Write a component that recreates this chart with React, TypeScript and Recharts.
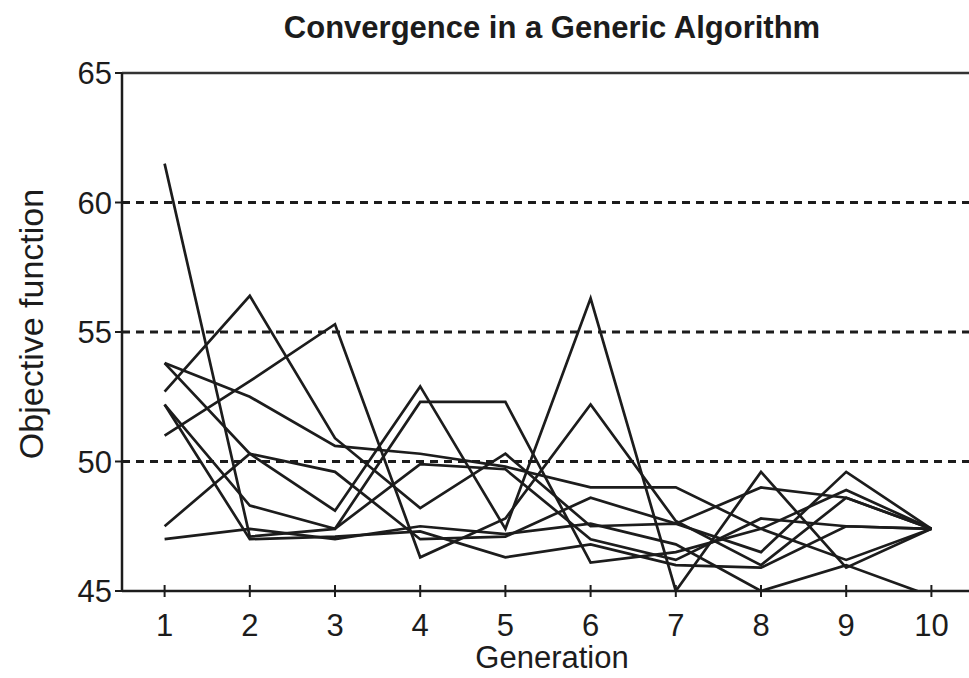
import React from "react";
import { LineChart, Line, XAxis, YAxis, ReferenceLine } from "recharts";

const INK = "#1c1c1c";
const FONT = '"Liberation Sans", Arial, Helvetica, sans-serif';

const generations = [1, 2, 3, 4, 5, 6, 7, 8, 9, 10];
const yTicks = [45, 50, 55, 60, 65];
const gridLevels = [50, 55, 60];

// one run of the algorithm per array, objective value at each generation
const run1 = [61.5, 47.1, 47.4, 52.3, 52.3, 46.1, 46.5, 47.4, 48.9, 47.4];
const run2 = [47.5, 50.3, 48.1, 52.9, 47.4, 56.3, 45.0, 49.6, 45.9, 47.4];
const run3 = [51.0, 53.1, 55.3, 46.3, 47.8, 52.2, 47.7, 46.0, 48.6, 47.4];
const run4 = [52.7, 56.4, 50.9, 48.2, 50.3, 47.5, 47.6, 46.5, 49.6, 47.4];
const run5 = [53.8, 52.5, 50.6, 50.3, 49.8, 49.0, 49.0, 47.4, 46.2, 47.4];
const run6 = [53.8, 50.3, 49.6, 47.0, 47.1, 48.6, 47.6, 49.0, 48.6, 47.4];
const run7 = [52.2, 48.3, 47.4, 49.9, 49.7, 47.0, 46.2, 47.8, 47.5, 47.4];
const run8 = [52.2, 47.0, 47.1, 47.3, 46.3, 46.8, 46.0, 45.9, 47.5, 47.4];
const run9 = [47.0, 47.4, 47.0, 47.5, 47.2, 47.6, 46.8, 45.0, 46.0, 44.8];

const runs = [run1, run2, run3, run4, run5, run6, run7, run8, run9];

const data = generations.map((g, i) => {
  const row: Record<string, number> = { gen: g };
  runs.forEach((r, k) => {
    row["r" + k] = r[i];
  });
  return row;
});

function GenTick({ x, y, payload }: any) {
  return (
    <g>
      <line x1={x} x2={x} y1={y - 6} y2={y + 6} stroke={INK} strokeWidth={2} />
      <text x={x} y={y + 45} textAnchor="middle" fontSize={31} fontFamily={FONT} fill={INK}>
        {payload.value}
      </text>
    </g>
  );
}

export default function App() {
  return (
    <div
      style={{
        position: "absolute",
        left: 0,
        top: 0,
        width: 969,
        height: 678,
        overflow: "hidden",
        background: "#fff",
        fontFamily: FONT,
        color: INK,
      }}
    >
      <div
        style={{
          position: "absolute",
          left: 0,
          width: 1104,
          top: 8,
          textAlign: "center",
          fontSize: 31,
          fontWeight: "bold",
          lineHeight: "40px",
        }}
      >
        Convergence in a Generic Algorithm
      </div>
      <div
        style={{
          position: "absolute",
          left: 31,
          top: 324,
          transform: "translate(-50%, -50%) rotate(-90deg)",
          whiteSpace: "nowrap",
          fontSize: 34,
          lineHeight: "38px",
        }}
      >
        Objective function
      </div>
      <div
        style={{
          position: "absolute",
          left: 0,
          width: 1104,
          top: 640,
          textAlign: "center",
          fontSize: 31,
          lineHeight: "36px",
        }}
      >
        Generation
      </div>
      <div style={{ position: "absolute", left: 0, top: 0 }}>
        <LineChart
          width={974}
          height={678}
          data={data}
          margin={{ top: 73, right: 0, bottom: 0, left: 62 }}
        >
          <XAxis
            dataKey="gen"
            type="number"
            domain={[0.5, 10.5]}
            ticks={generations}
            height={87}
            tickSize={0}
            tickMargin={0}
            tick={<GenTick />}
            axisLine={{ stroke: INK, strokeWidth: 2.5 }}
            allowDataOverflow
          />
          <YAxis
            type="number"
            domain={[45, 65]}
            ticks={yTicks}
            width={60}
            tickSize={7}
            tickMargin={3}
            tickLine={{ stroke: INK, strokeWidth: 2 }}
            axisLine={{ stroke: INK, strokeWidth: 2.5 }}
            tick={{ fontSize: 31, fill: INK, fontFamily: FONT }}
            allowDataOverflow
          />
          {gridLevels.map((v) => (
            <ReferenceLine key={v} y={v} stroke={INK} strokeWidth={3} strokeDasharray="8 6" />
          ))}
          <ReferenceLine y={65} stroke="#333" strokeWidth={2.5} />
          {runs.map((_, k) => (
            <Line
              key={k}
              dataKey={"r" + k}
              type="linear"
              stroke={INK}
              strokeWidth={2.7}
              dot={false}
              isAnimationActive={false}
            />
          ))}
        </LineChart>
      </div>
    </div>
  );
}
